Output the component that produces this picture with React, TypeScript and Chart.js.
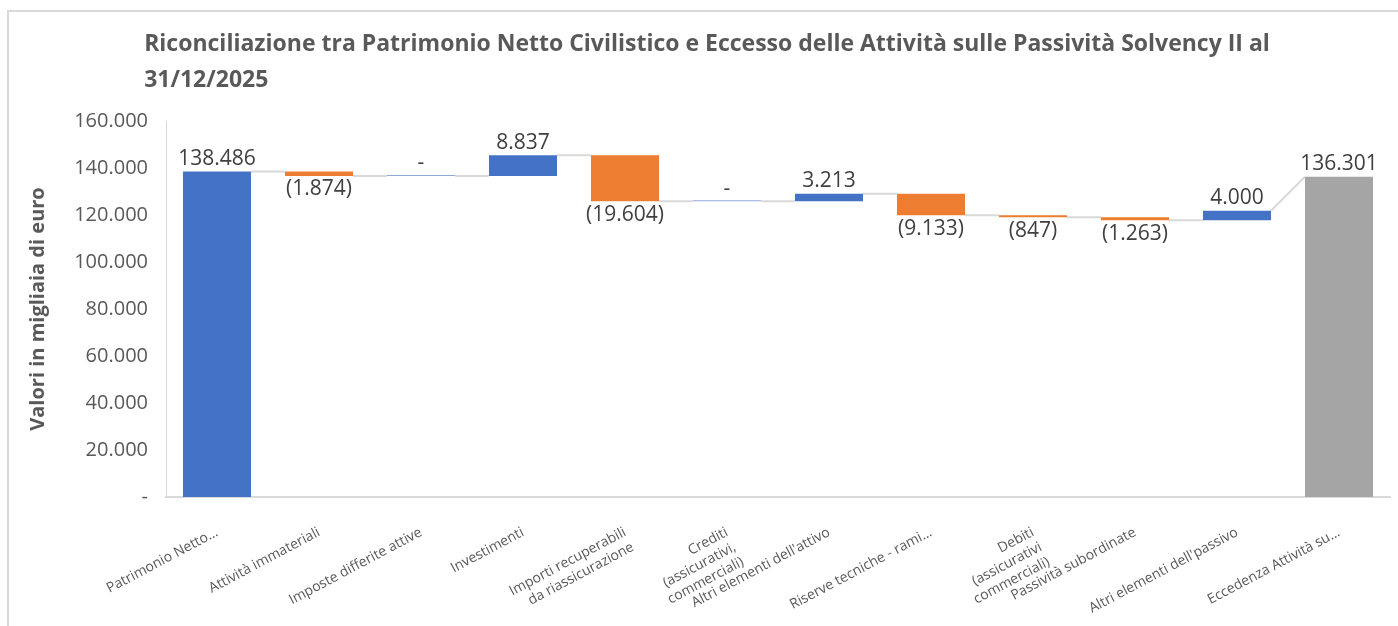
import React, { useEffect, useRef } from "react";
import { Chart, registerables } from "chart.js";

Chart.register(...registerables);

const TITLE_LINES = [
  "Riconciliazione tra Patrimonio Netto Civilistico e Eccesso delle Attività sulle Passività Solvency II al",
  "31/12/2025",
];
const Y_AXIS_TITLE = "Valori in migliaia di euro";

const categories: (string | string[])[] = [
  "Patrimonio Netto...",
  "Attività immateriali",
  "Imposte differite attive",
  "Investimenti",
  ["Importi recuperabili", "da riassicurazione"],
  ["Crediti", "(assicurativi,", "commerciali)"],
  "Altri elementi dell'attivo",
  "Riserve tecniche - rami...",
  ["Debiti", "(assicurativi", "commerciali)"],
  "Passività subordinate",
  "Altri elementi dell'passivo",
  "Eccedenza Attività su...",
];

// value of each step (totals are absolute, others are variations)
const values = [138486, -1874, 0, 8837, -19604, 0, 3213, -9133, -847, -1263, 4000, 136301];
const isTotal = [true, false, false, false, false, false, false, false, false, false, false, true];

const yTickValues = [0, 20000, 40000, 60000, 80000, 100000, 120000, 140000, 160000];

const COLOR_UP = "#4472C4";
const COLOR_DOWN = "#ED7D31";
const COLOR_TOTAL = "#A5A5A5";
const COLOR_ZERO = "#8FAADC";
const TEXT = "#595959";
const LABEL_TEXT = "#404040";
const LINE = "#D9D9D9";
const FONT = "'Open Sans', sans-serif";

function fmt(v: number): string {
  if (v === 0) return "-";
  const s = Math.abs(v)
    .toString()
    .replace(/\B(?=(\d{3})+(?!\d))/g, ".");
  return v < 0 ? `(${s})` : s;
}

export default function App() {
  const ref = useRef<HTMLCanvasElement | null>(null);

  useEffect(() => {
    const canvas = ref.current;
    if (!canvas) return;

    // build floating bar ranges
    const ranges: [number, number][] = [];
    const endLevels: number[] = [];
    let running = 0;
    values.forEach((v, i) => {
      if (isTotal[i]) {
        ranges.push([0, v]);
        running = v;
      } else {
        ranges.push([running, running + v]);
        running = running + v;
      }
      endLevels.push(running);
    });

    const colors = values.map((v, i) =>
      isTotal[i] ? (i === 0 ? COLOR_UP : COLOR_TOTAL) : v > 0 ? COLOR_UP : v < 0 ? COLOR_DOWN : COLOR_ZERO
    );

    const framePlugin = {
      id: "frame",
      beforeDraw(chart: any) {
        const ctx = chart.ctx;
        ctx.save();
        ctx.fillStyle = "#ffffff";
        ctx.fillRect(0, 0, chart.width, chart.height);
        ctx.strokeStyle = LINE;
        ctx.lineWidth = 2;
        ctx.beginPath();
        ctx.moveTo(8, chart.height);
        ctx.lineTo(8, 11);
        ctx.lineTo(chart.width, 11);
        ctx.stroke();
        // title
        ctx.font = `bold 23px ${FONT}`;
        ctx.fillStyle = TEXT;
        ctx.textBaseline = "alphabetic";
        ctx.textAlign = "left";
        const w = ctx.measureText(TITLE_LINES[0]).width;
        const x0 = 707 - w / 2;
        ctx.fillText(TITLE_LINES[0], x0, 51);
        ctx.fillText(TITLE_LINES[1], x0, 87);
        ctx.restore();
      },
    };

    const connectorPlugin = {
      id: "connectors",
      beforeDatasetsDraw(chart: any) {
        const ctx = chart.ctx;
        const meta = chart.getDatasetMeta(0);
        const y = chart.scales.y;
        ctx.save();
        ctx.strokeStyle = LINE;
        ctx.lineWidth = 2;
        for (let i = 0; i < meta.data.length - 1; i++) {
          const a = meta.data[i];
          const b = meta.data[i + 1];
          const y1 = y.getPixelForValue(endLevels[i]);
          const y2 = isTotal[i + 1] ? y.getPixelForValue(values[i + 1]) : y1;
          ctx.beginPath();
          ctx.moveTo(a.x + a.width / 2, y1);
          ctx.lineTo(b.x - b.width / 2, y2);
          ctx.stroke();
        }
        ctx.restore();
      },
    };

    const labelPlugin = {
      id: "valueLabels",
      afterDatasetsDraw(chart: any) {
        const ctx = chart.ctx;
        const meta = chart.getDatasetMeta(0);
        const y = chart.scales.y;
        ctx.save();
        ctx.font = `21px ${FONT}`;
        ctx.fillStyle = LABEL_TEXT;
        ctx.textAlign = "center";
        meta.data.forEach((el: any, i: number) => {
          const [s, e] = ranges[i];
          const top = y.getPixelForValue(Math.max(s, e));
          const bottom = y.getPixelForValue(Math.min(s, e));
          const v = values[i];
          if (v < 0) {
            ctx.textBaseline = "top";
            ctx.fillText(fmt(v), el.x, bottom + 3);
          } else {
            ctx.textBaseline = "bottom";
            ctx.fillText(fmt(v), el.x, top - 2);
          }
        });
        ctx.restore();
      },
    };

    const chart = new Chart(canvas, {
      type: "bar",
      data: {
        labels: categories,
        datasets: [
          {
            data: ranges as any,
            backgroundColor: colors,
            borderWidth: 0,
            barPercentage: 0.667,
            categoryPercentage: 1,
            minBarLength: 1,
          },
        ],
      },
      options: {
        responsive: false,
        animation: false,
        devicePixelRatio: 1,
        layout: { padding: { top: 121, left: 0, right: 8, bottom: 0 } },
        plugins: {
          legend: { display: false },
          title: { display: false },
          tooltip: { enabled: false },
        },
        scales: {
          x: {
            grid: { display: false, drawTicks: false },
            border: { display: true, color: LINE, width: 2 },
            ticks: {
              autoSkip: false,
              minRotation: 28,
              maxRotation: 28,
              padding: 27,
              color: TEXT,
              font: { family: FONT, size: 14 },
            },
            afterFit(scale: any) {
              scale.height = 129;
            },
          },
          y: {
            min: 0,
            max: 160000,
            grid: { display: false, drawTicks: false },
            border: { display: true, color: LINE, width: 1 },
            afterBuildTicks(scale: any) {
              scale.ticks = yTickValues.map((v) => ({ value: v }));
            },
            ticks: {
              padding: 18,
              color: TEXT,
              font: { family: FONT, size: 20 },
              callback: (v: any) => fmt(Number(v)),
            },
            title: {
              display: true,
              text: Y_AXIS_TITLE,
              color: TEXT,
              font: { family: FONT, size: 20, weight: "bold" },
              padding: { top: 26, bottom: 0 },
            },
            afterFit(scale: any) {
              scale.width = 166;
            },
          },
        },
      },
      plugins: [framePlugin, connectorPlugin, labelPlugin],
    });

    return () => chart.destroy();
  }, []);

  return (
    <div style={{ position: "fixed", left: 0, top: 0, width: 1398, height: 626, background: "#fff" }}>
      <canvas ref={ref} width={1398} height={626} style={{ width: 1398, height: 626, display: "block" }} />
    </div>
  );
}
